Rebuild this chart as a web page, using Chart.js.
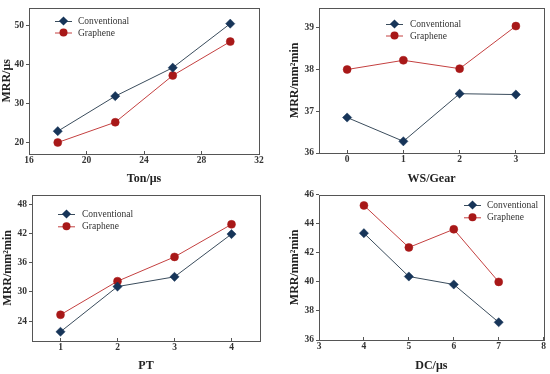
<!DOCTYPE html>
<html>
<head>
<meta charset="utf-8">
<script src="https://cdn.jsdelivr.net/npm/chart.js@4/dist/chart.umd.min.js"></script>
<style>
html,body{margin:0;padding:0;background:#fff;}
#wrap{position:relative;width:550px;height:374px;}
.p{position:absolute;width:275px;height:187px;}
</style>
</head>
<body>
<div id="wrap">
<div class="p" style="left:0;top:0"><canvas id="c1" width="275" height="187"></canvas></div>
<div class="p" style="left:275px;top:0"><canvas id="c2" width="275" height="187"></canvas></div>
<div class="p" style="left:0;top:187px"><canvas id="c3" width="275" height="187"></canvas></div>
<div class="p" style="left:275px;top:187px"><canvas id="c4" width="275" height="187"></canvas></div>
</div>
<script>
// ---- data ----
const seriesNames = ["Conventional", "Graphene"];

const tonX = [18, 22, 26, 30];
const tonConventional = [22.9, 31.9, 39.2, 50.5];
const tonGraphene = [20.0, 25.2, 37.2, 45.9];
const tonXTicks = [16, 20, 24, 28, 32];
const tonYTicks = [20, 30, 40, 50];

const wsX = [0, 1, 2, 3];
const wsConventional = [36.85, 36.28, 37.42, 37.40];
const wsGraphene = [38.00, 38.22, 38.02, 39.04];
const wsXTicks = [0, 1, 2, 3];
const wsYTicks = [36, 37, 38, 39];

const ptX = [1, 2, 3, 4];
const ptConventional = [21.8, 31.1, 33.1, 41.9];
const ptGraphene = [25.3, 32.2, 37.2, 43.9];
const ptXTicks = [1, 2, 3, 4];
const ptYTicks = [24, 30, 36, 42, 48];

const dcX = [4, 5, 6, 7];
const dcConventional = [43.35, 40.37, 39.82, 37.22];
const dcGraphene = [45.26, 42.37, 43.62, 40.00];
const dcXTicks = [3, 4, 5, 6, 7, 8];
const dcYTicks = [36, 38, 40, 42, 44, 46];

// ---- styles ----
const CONV_LINE = '#3a4c5c', CONV_FILL = '#173559';
const GRA_LINE = '#c44040', GRA_FILL = '#a81818';
const FRAME = '#555555';
const SERIF = '"Liberation Serif","Times New Roman",serif';

const framePlugin = {
  id: 'frame',
  afterDraw(chart) {
    const a = chart.chartArea, ctx = chart.ctx;
    ctx.save();
    ctx.strokeStyle = FRAME;
    ctx.lineWidth = 1;
    ctx.strokeRect(Math.round(a.left) + 0.5, Math.round(a.top) + 0.5,
                   Math.round(a.right - a.left), Math.round(a.bottom - a.top));
    ctx.restore();
  }
};

function drawMarker(ctx, style, x, y, r, fill) {
  ctx.beginPath();
  if (style === 'rectRot') {
    ctx.moveTo(x - r, y); ctx.lineTo(x, y - r); ctx.lineTo(x + r, y); ctx.lineTo(x, y + r);
    ctx.closePath();
  } else {
    ctx.arc(x, y, r, 0, Math.PI * 2);
  }
  ctx.fillStyle = fill; ctx.fill();
}

const legendPlugin = {
  id: 'insideLegend',
  afterDraw(chart, args, opts) {
    const ctx = chart.ctx;
    ctx.save();
    chart.data.datasets.forEach((ds, i) => {
      const y = opts.y + i * opts.gap;
      ctx.strokeStyle = ds.borderColor; ctx.lineWidth = 1;
      ctx.beginPath(); ctx.moveTo(opts.x1, y + 0.5); ctx.lineTo(opts.x2, y + 0.5); ctx.stroke();
      drawMarker(ctx, ds.pointStyle, (opts.x1 + opts.x2) / 2, y, ds.pointRadius, ds.pointBackgroundColor);
      ctx.fillStyle = '#333';
      ctx.font = '9.5px ' + SERIF;
      ctx.textBaseline = 'middle';
      ctx.textAlign = 'left';
      ctx.fillText(ds.label, opts.tx, y + 0.5);
    });
    ctx.restore();
  }
};

function makeChart(id, xs, conv, gra, cfg) {
  const toPts = arr => arr.map((v, i) => ({x: xs[i], y: v}));
  return new Chart(document.getElementById(id), {
    type: 'line',
    data: {
      datasets: [
        {label: seriesNames[0], data: toPts(conv), borderColor: CONV_LINE, borderWidth: 1,
         pointStyle: 'rectRot', pointRadius: 4.6, pointBackgroundColor: CONV_FILL, pointBorderColor: CONV_FILL,
         pointBorderWidth: 0.5, tension: 0, clip: false},
        {label: seriesNames[1], data: toPts(gra), borderColor: GRA_LINE, borderWidth: 1,
         pointStyle: 'circle', pointRadius: 4, pointBackgroundColor: GRA_FILL, pointBorderColor: GRA_FILL,
         pointBorderWidth: 0.5, tension: 0, clip: false}
      ]
    },
    options: {
      responsive: false, animation: false, devicePixelRatio: 1,
      layout: {padding: {top: 5, left: cfg.padL, right: cfg.padR, bottom: 0}},
      plugins: {legend: {display: false}, tooltip: {enabled: false},
                insideLegend: cfg.legend},
      scales: {
        x: {
          type: 'linear', min: cfg.xMin, max: cfg.xMax,
          afterBuildTicks: s => { s.ticks = cfg.xTicks.map(v => ({value: v})); },
          afterFit: s => { s.height = cfg.xH; },
          grid: {drawOnChartArea: false, drawTicks: true, tickLength: -3, color: FRAME},
          border: {display: false},
          ticks: {font: {family: SERIF, size: 9.5, weight: 'bold'}, color: '#333', padding: 4, maxRotation: 0, autoSkip: false},
          title: {display: true, text: cfg.xTitle, font: {family: SERIF, size: 12, weight: 'bold'},
                  color: '#222', padding: {top: 0, bottom: 1}}
        },
        y: {
          type: 'linear', min: cfg.yMin, max: cfg.yMax,
          afterBuildTicks: s => { s.ticks = cfg.yTicks.map(v => ({value: v})); },
          afterFit: s => { s.width = cfg.yW; },
          grid: {drawOnChartArea: false, drawTicks: true, tickLength: 3, color: FRAME},
          border: {display: false},
          ticks: {font: {family: SERIF, size: 9.5, weight: 'bold'}, color: '#333', padding: 2, autoSkip: false},
          title: {display: true, text: cfg.yTitle, font: {family: SERIF, size: 12, weight: 'bold'},
                  color: '#222', padding: {top: 0, bottom: 0}}
        }
      }
    },
    plugins: [framePlugin, legendPlugin]
  });
}

makeChart('c1', tonX, tonConventional, tonGraphene, {
  padL: 0, padR: 16, yW: 29, xH: 33, xMin: 16, xMax: 32, yMin: 17.05, yMax: 54.6,
  xTicks: tonXTicks, yTicks: tonYTicks, xTitle: 'Ton/μs', yTitle: 'MRR/μs',
  legend: {x1: 55, x2: 72, tx: 78, y: 21, gap: 11.5}
});
makeChart('c2', wsX, wsConventional, wsGraphene, {
  padL: 13, padR: 6, yW: 31, xH: 34, xMin: -0.5, xMax: 3.5, yMin: 36, yMax: 39.48,
  xTicks: wsXTicks, yTicks: wsYTicks, xTitle: 'WS/Gear', yTitle: 'MRR/mm²min',
  legend: {x1: 111, x2: 128, tx: 135, y: 24, gap: 11.5}
});
makeChart('c3', ptX, ptConventional, ptGraphene, {
  padL: 1, padR: 15, yW: 31, xH: 33, xMin: 0.5, xMax: 4.5, yMin: 19.9, yMax: 50,
  xTicks: ptXTicks, yTicks: ptYTicks, xTitle: 'PT', yTitle: 'MRR/mm²min',
  legend: {x1: 58, x2: 75, tx: 82, y: 27, gap: 12.3}
});
makeChart('c4', dcX, dcConventional, dcGraphene, {
  padL: 13, padR: 6, yW: 31, xH: 34, xMin: 3, xMax: 8, yMin: 36, yMax: 46,
  xTicks: dcXTicks, yTicks: dcYTicks, xTitle: 'DC/μs', yTitle: 'MRR/mm²min',
  legend: {x1: 189, x2: 206, tx: 212, y: 18, gap: 12.3}
});
</script>
</body>
</html>
